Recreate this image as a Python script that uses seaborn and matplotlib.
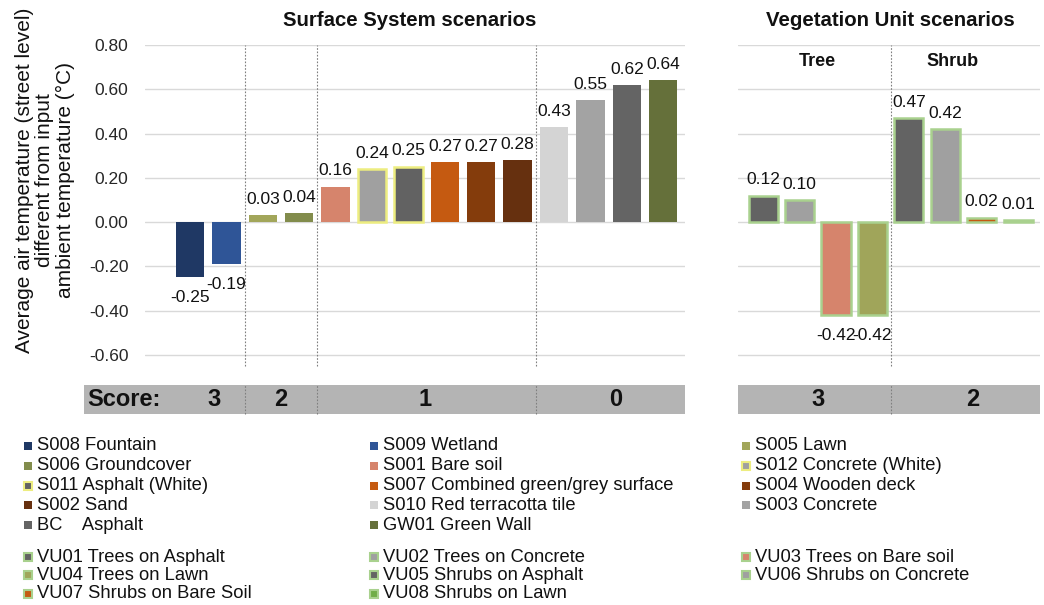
import numpy as np
import pandas as pd
import seaborn as sns
import matplotlib.pyplot as plt
from matplotlib.patches import Rectangle
from matplotlib.ticker import FormatStrFormatter

# surface system scenarios (left panel)
ss_names = ["S008 Fountain", "S009 Wetland", "S005 Lawn", "S006 Groundcover",
            "S001 Bare soil", "S012 Concrete (White)", "S011 Asphalt (White)",
            "S007 Combined green/grey surface", "S004 Wooden deck", "S002 Sand",
            "S010 Red terracotta tile", "S003 Concrete", "BC    Asphalt", "GW01 Green Wall"]
ss_values = [-0.25, -0.19, 0.03, 0.04, 0.16, 0.24, 0.25, 0.27, 0.27, 0.28, 0.43, 0.55, 0.62, 0.64]
ss_colors = ["#1f3864", "#2f5597", "#a2a65a", "#828c4c", "#d6846c", "#a0a0a0", "#626262",
             "#c55a11", "#843c0c", "#66300f", "#d4d4d4", "#a3a3a3", "#646464", "#65703a"]
ss_edges = [None, None, None, None, None, "#eded80", "#eded80",
            None, None, None, None, None, None, None]

# vegetation unit scenarios (right panel)
vu_names = ["VU01 Trees on Asphalt", "VU02 Trees on Concrete", "VU03 Trees on Bare soil",
            "VU04 Trees on Lawn", "VU05 Shrubs on Asphalt", "VU06 Shrubs on Concrete",
            "VU07 Shrubs on Bare Soil", "VU08 Shrubs on Lawn"]
vu_values = [0.12, 0.10, -0.42, -0.42, 0.47, 0.42, 0.02, 0.01]
vu_colors = ["#636363", "#a0a0a0", "#d6846c", "#a0a55a", "#636363", "#a0a0a0", "#c55a11", "#70ad47"]
vu_edge = "#a9d18e"

y_ticks = [-0.6, -0.4, -0.2, 0.0, 0.2, 0.4, 0.6, 0.8]
ss_groups = [1.5, 3.5, 9.5]        # score boundaries
ss_scores = ["3", "2", "1", "0"]
vu_groups = [3.5]
vu_scores = ["3", "2"]

# legend layout (column order as in the original)
leg_s_cols = [["S008 Fountain", "S006 Groundcover", "S011 Asphalt (White)", "S002 Sand", "BC    Asphalt"],
              ["S009 Wetland", "S001 Bare soil", "S007 Combined green/grey surface",
               "S010 Red terracotta tile", "GW01 Green Wall"],
              ["S005 Lawn", "S012 Concrete (White)", "S004 Wooden deck", "S003 Concrete"]]
leg_v_cols = [["VU01 Trees on Asphalt", "VU04 Trees on Lawn", "VU07 Shrubs on Bare Soil"],
              ["VU02 Trees on Concrete", "VU05 Shrubs on Asphalt", "VU08 Shrubs on Lawn"],
              ["VU03 Trees on Bare soil", "VU06 Shrubs on Concrete"]]

sns.set_style("white")
plt.rcParams["font.family"] = ["Liberation Sans", "DejaVu Sans"]
plt.rcParams["text.color"] = "#111111"

W, H = 1044, 605
fig = plt.figure(figsize=(W / 100, H / 100), dpi=100)

def fx(px):
    return px / W

def fy(py):
    return 1 - py / H

ax1 = fig.add_axes([fx(145), fy(366), fx(685) - fx(145), fy(45) - fy(366)])
ax2 = fig.add_axes([fx(738), fy(366), fx(1040) - fx(738), fy(45) - fy(366)])

ss_df = pd.DataFrame({"scenario": ss_names, "value": ss_values})
vu_df = pd.DataFrame({"scenario": vu_names, "value": vu_values})

sns.barplot(data=ss_df, x="scenario", y="value", hue="scenario",
            palette=dict(zip(ss_names, ss_colors)), legend=False,
            width=0.78, saturation=1, ax=ax1)
sns.barplot(data=vu_df, x="scenario", y="value", hue="scenario",
            palette=dict(zip(vu_names, vu_colors)), legend=False,
            width=0.8, saturation=1, ax=ax2)

for cont, edge, v in zip(ax1.containers, ss_edges, ss_values):
    for p in cont:
        if edge:
            p.set_edgecolor(edge)
            p.set_linewidth(1.8)
        else:
            p.set_linewidth(0)
    ax1.bar_label(cont, fmt="%.2f", padding=6 if v >= 0 else 9, fontsize=12.5)

for cont, v in zip(ax2.containers, vu_values):
    for p in cont:
        p.set_edgecolor(vu_edge)
        p.set_linewidth(1.8)
    ax2.bar_label(cont, fmt="%.2f", padding=6 if v >= 0 else 9, fontsize=12.5)

ax1.set_xlim(-1.24, 13.6)
ax2.set_xlim(-0.69, 7.6)
for ax in (ax1, ax2):
    ax.set_ylim(-0.65, 0.8)
    ax.set_yticks(y_ticks)
    ax.yaxis.set_major_formatter(FormatStrFormatter("%.2f"))
    ax.grid(axis="y", color="#d9d9d9", lw=1)
    ax.set_axisbelow(True)
    ax.set_xticks([])
    ax.set_xlabel("")
    ax.set_ylabel("")
    for s in ax.spines.values():
        s.set_visible(False)
ax1.tick_params(axis="y", length=0, pad=12, labelsize=12.5)
ax2.tick_params(axis="y", length=0, labelleft=False)

# score bands
band_lo, band_hi = -0.867, -0.736
ax1.add_patch(Rectangle((-2.91, band_lo), 13.6 + 2.91, band_hi - band_lo,
                        facecolor="#b4b4b4", edgecolor="none", clip_on=False, zorder=0))
ax2.add_patch(Rectangle((-0.69, band_lo), 7.6 + 0.69, band_hi - band_lo,
                        facecolor="#b4b4b4", edgecolor="none", clip_on=False, zorder=0))
band_mid = (band_lo + band_hi) / 2
ax1.text(-2.83, band_mid, "Score:", ha="left", va="center", fontsize=17, fontweight="bold", clip_on=False)
for xs, s in zip([0.65, 2.5, 6.45, 11.7], ss_scores):
    ax1.text(xs, band_mid, s, ha="center", va="center", fontsize=17, fontweight="bold", clip_on=False)
for xs, s in zip([1.5, 5.75], vu_scores):
    ax2.text(xs, band_mid, s, ha="center", va="center", fontsize=17, fontweight="bold", clip_on=False)

# dotted separators
for ax, seps in ((ax1, ss_groups), (ax2, vu_groups)):
    for xs in seps:
        ax.plot([xs, xs], [-0.65, 0.8], ls=(0, (1.5, 1.5)), color="#7f7f7f", lw=0.8, clip_on=False)
        ax.plot([xs, xs], [band_lo, band_hi], ls=(0, (1.5, 1.5)), color="#7f7f7f", lw=0.8, clip_on=False)

ax2.text(1.5, 0.727, "Tree", ha="center", va="center", fontsize=13, fontweight="bold")
ax2.text(5.2, 0.727, "Shrub", ha="center", va="center", fontsize=13, fontweight="bold")

fig.text(fx(410), fy(20), "Surface System scenarios", ha="center", va="center",
         fontsize=14.7, fontweight="bold")
fig.text(fx(890), fy(20), "Vegetation Unit scenarios", ha="center", va="center",
         fontsize=14.7, fontweight="bold")
fig.text(fx(45), fy(180),
         "Average air temperature (street level)\ndifferent from input\nambient temperature (\u00b0C)",
         rotation=90, ha="center", va="center", multialignment="center",
         fontsize=15, linespacing=1.12)

# legend
style = {}
for n, c, e in zip(ss_names, ss_colors, ss_edges):
    style[n] = (c, e)
for n, c in zip(vu_names, vu_colors):
    style[n] = (c, vu_edge)

def draw_legend(cols, y0, dy):
    for (mx, tx), col in zip([(24, 37), (370, 383), (742, 755)], cols):
        for i, name in enumerate(col):
            yc = y0 + i * dy
            face, edge = style[name]
            fig.patches.append(Rectangle((fx(mx), fy(yc + 4)), fx(8), 8 / H,
                                         transform=fig.transFigure, facecolor=face,
                                         edgecolor=edge if edge else "none",
                                         lw=1.5 if edge else 0))
            fig.text(fx(tx), fy(yc), name, ha="left", va="center", fontsize=13.2)

draw_legend(leg_s_cols, 446, 19.75)
draw_legend(leg_v_cols, 557, 18.3)

fig.savefig("out.png", dpi=100, facecolor="white")
